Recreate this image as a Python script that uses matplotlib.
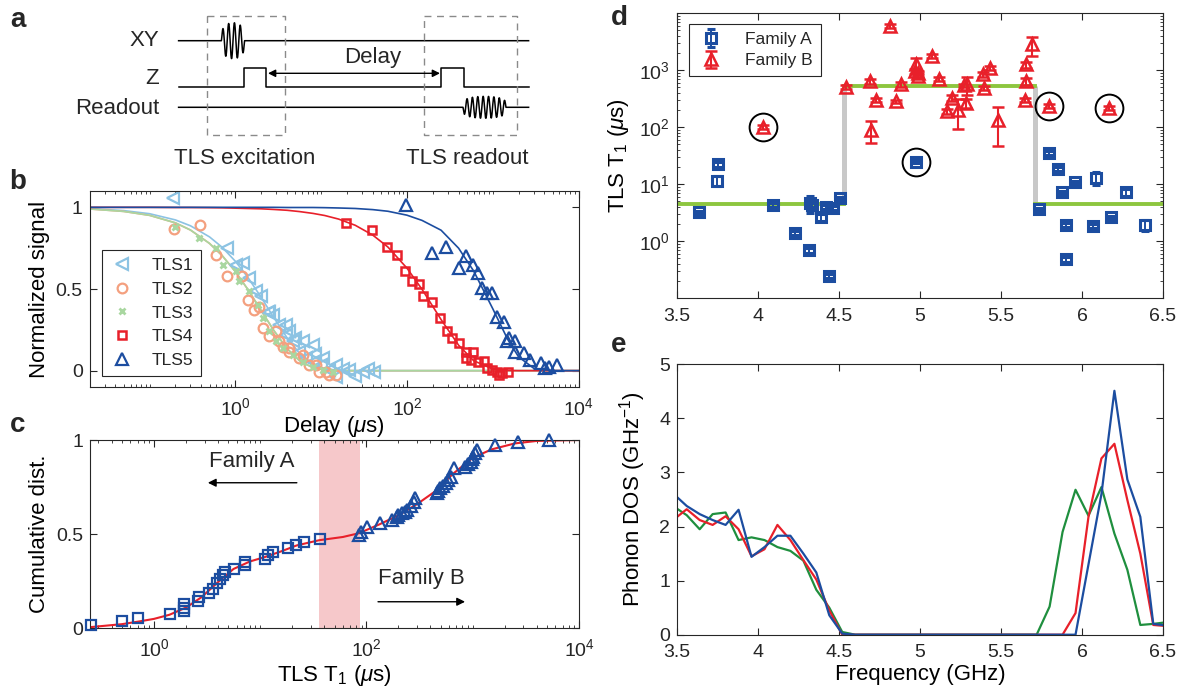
import numpy as np
import matplotlib
matplotlib.use('Agg')
from matplotlib import pyplot as plt
from matplotlib.ticker import LogLocator, NullFormatter, FixedLocator

plt.rcParams['font.family'] = ['Liberation Sans', 'DejaVu Sans']
plt.rcParams['mathtext.fontset'] = 'custom'
plt.rcParams['mathtext.rm'] = 'Liberation Sans'
plt.rcParams['mathtext.it'] = 'Liberation Sans:italic'
plt.rcParams['mathtext.bf'] = 'Liberation Sans:bold'
plt.rcParams['text.color'] = '#262626'

# ---------------- panel b: T1 decay of five TLS ----------------
t1 = [0.186, 0.79, 1.02, 1.22, 1.46, 1.74, 1.99, 2.38, 2.49, 2.72, 3.26, 3.9, 3.9, 4.26, 4.66,
      5.0, 5.57, 6.1, 6.67, 7.97, 7.97, 8.5, 10.0, 10.4, 12.5, 14.9, 14.9, 18.0, 21.3, 25.0,
      30.5, 35.0, 41.7]
s1 = [1.06, 0.75, 0.65, 0.66, 0.57, 0.485, 0.46, 0.36, 0.36, 0.34, 0.28, 0.22, 0.28, 0.24, 0.18,
      0.2, 0.117, 0.18, 0.076, 0.055, 0.16, 0.1, 0.035, 0.076, 0.004, -0.037, 0.035, 0.01, 0.004, -0.03,
      -0.006, 0.01, -0.006]
t2 = [0.194, 0.39, 0.6, 0.8, 1.2, 1.39, 1.66, 1.89, 2.08, 2.49, 2.98, 3.26, 3.56, 4.26, 4.26,
      5.57, 6.1, 7.3, 8.7, 9.5, 11.4, 12.5, 14.9]
s2 = [0.87, 0.89, 0.71, 0.58, 0.58, 0.43, 0.37, 0.39, 0.26, 0.21, 0.24, 0.18, 0.147, 0.117, 0.137,
      0.076, 0.096, 0.035, 0.035, -0.006, -0.006, -0.026, -0.026]
t3 = [0.2, 0.38, 0.6, 0.71, 1.02, 1.11, 1.46, 1.82, 2.08, 2.49, 2.98, 3.56, 4.66, 6.1, 7.97, 10.4, 13.6]
s3 = [0.88, 0.81, 0.75, 0.65, 0.61, 0.55, 0.485, 0.40, 0.32, 0.24, 0.18, 0.137, 0.096, 0.055, 0.025, 0.004, -0.006]
t4 = [19.6, 38.9, 58, 76.5, 95.7, 114, 140, 155, 194, 244, 293, 335, 410, 493, 493, 560, 585,
      665, 792, 866, 985, 1120, 1190, 1300, 1490]
s4 = [0.905, 0.86, 0.76, 0.71, 0.61, 0.546, 0.53, 0.456, 0.42, 0.32, 0.24, 0.20, 0.17, 0.115, 0.076,
      0.066, 0.115, 0.055, 0.06, 0.018, 0.004, -0.006, -0.026, -0.016, -0.006]
t5 = [98.5, 194, 285, 403, 493, 585, 665, 760, 866, 985, 1120, 1360, 1480, 1530, 1800, 1830,
      2330, 2710, 3680, 4060, 4530, 5600]
s5 = [1.017, 0.72, 0.755, 0.63, 0.70, 0.65, 0.60, 0.505, 0.475, 0.475, 0.33, 0.30, 0.18, 0.20,
      0.18, 0.117, 0.107, 0.066, 0.045, 0.015, 0.025, 0.035]

# fitted decay curves
fit_t = [0.02, 0.05, 0.1, 0.2, 0.3, 0.5, 0.7, 1, 1.4, 2, 2.8, 4, 5.6, 8, 11, 16, 25, 40, 60,
         100, 150, 250, 400, 600, 1000, 1500, 2000, 3000, 5000, 10000]
fit1 = [0.992, 0.98, 0.961, 0.923, 0.887, 0.819, 0.756, 0.67, 0.571, 0.449, 0.326, 0.202, 0.106,
        0.041, 0.012, 0.002, 0, 0, 0, 0, 0, 0, 0, 0, 0, 0, 0, 0, 0, 0]
fit3 = [0.99, 0.975, 0.951, 0.905, 0.861, 0.779, 0.705, 0.607, 0.497, 0.368, 0.247, 0.135, 0.061,
        0.018, 0.004, 0, 0, 0, 0, 0, 0, 0, 0, 0, 0, 0, 0, 0, 0, 0]
fit4 = [1.0, 1.0, 1.0, 0.999, 0.999, 0.998, 0.997, 0.995, 0.993, 0.991, 0.987, 0.982, 0.974, 0.963,
        0.95, 0.928, 0.89, 0.83, 0.757, 0.628, 0.498, 0.313, 0.156, 0.061, 0.01, 0.001, 0, 0, 0, 0]
fit5 = [1.0, 1.0, 1.0, 1.0, 1.0, 1.0, 1.0, 1.0, 1.0, 1.0, 1.0, 0.999, 0.999, 0.999, 0.998, 0.996,
        0.993, 0.986, 0.976, 0.952, 0.92, 0.86, 0.75, 0.61, 0.38, 0.19, 0.085, 0.015, 0, 0]

# ---------------- panel c: cumulative distribution ----------------
sq_t = [0.256, 0.497, 0.713, 1.41, 1.91, 1.91, 1.91, 2.6, 2.64, 3.3, 3.6, 3.88, 4.17, 4.48, 4.64,
        5.64, 7.14, 7.14, 11, 11.8, 13.2, 18.3, 21.9, 25.8, 36.3]
sq_c = [0.017, 0.04, 0.056, 0.076, 0.093, 0.11, 0.128, 0.147, 0.168, 0.19, 0.21, 0.24, 0.26, 0.283,
        0.30, 0.315, 0.336, 0.354, 0.368, 0.389, 0.404, 0.425, 0.442, 0.457, 0.474]
tr_t = [85, 88, 101, 134, 173, 194, 200, 217, 230, 243, 262, 280, 288, 458, 470, 495, 520, 555,
        580, 618, 665, 853, 900, 955, 980, 1000, 1050, 1090, 1620, 2690, 5200]
tr_c = [0.495, 0.513, 0.54, 0.557, 0.575, 0.593, 0.60, 0.61, 0.62, 0.628, 0.651, 0.67, 0.69, 0.717,
        0.73, 0.743, 0.755, 0.77, 0.79, 0.805, 0.85, 0.858, 0.87, 0.885, 0.9, 0.91, 0.93, 0.947,
        0.973, 0.99, 1.0]
cdf_t = [0.25, 0.5, 0.7, 1, 1.4, 2, 2.8, 4, 5.6, 8, 11, 16, 22, 36, 60, 85, 130, 200, 300, 450,
         650, 1000, 1500, 2500, 4000, 10000]
cdf_c = [0.006, 0.022, 0.035, 0.05, 0.072, 0.11, 0.165, 0.245, 0.315, 0.355, 0.378, 0.41, 0.44,
         0.468, 0.485, 0.505, 0.55, 0.6, 0.66, 0.73, 0.82, 0.905, 0.95, 0.982, 0.995, 1.0]
gap_t = [35.7, 86]

# ---------------- panel d: T1 vs frequency ----------------
famA_f = [3.638, 3.745, 3.755, 4.094, 4.228, 4.317, 4.321, 4.335, 4.389, 4.42, 4.461, 4.436,
          4.506, 4.973, 5.735, 5.796, 5.85, 5.879, 5.957, 5.901, 5.899, 6.066, 6.086, 6.179,
          6.272, 6.39]
famA_T = [3.17, 11.4, 22.2, 4.26, 1.38, 0.686, 4.57, 4.3, 2.59, 3.98, 3.73, 0.241, 5.6, 24.7,
          3.58, 35.6, 18.2, 7.13, 10.7, 1.89, 0.475, 1.84, 12.9, 2.59, 7.13, 1.89]
famA_err = [0.2, 2.2, 2.2, 0.3, 0.1, 0.06, 1.5, 0.4, 0.35, 0.3, 0.3, 0.02, 0.4, 1.5, 0.25, 3,
            1.4, 0.5, 0.8, 0.15, 0.04, 0.14, 3.2, 0.2, 0.9, 0.4]
famB_f = [4.029, 4.543, 4.691, 4.70, 4.728, 4.815, 4.85, 4.885, 4.967, 4.978, 4.99, 4.985,
          5.072, 5.118, 5.165, 5.2, 5.236, 5.27, 5.293, 5.282, 5.386, 5.398, 5.433, 5.483,
          5.648, 5.654, 5.654, 5.69, 5.796, 6.167]
famB_T = [102, 507, 637, 89.6, 303, 5950, 283, 557, 956, 1250, 895, 800, 1760, 702, 188, 325,
          202, 537, 557, 265, 836, 488, 1097, 134, 303, 637, 1255, 2820, 238, 216]
famB_err = [8, 40, 60, 38, 25, 400, 20, 50, 100, 350, 80, 70, 150, 60, 20, 40, 110, 40, 200, 50,
            80, 40, 100, 88, 25, 100, 150, 1050, 20, 18]
circled_A = [13]
circled_B = [0, 28, 29]
step_f = [4.53, 5.71]
level_A = 4.4
level_B = 520

# ---------------- panel e: phonon DOS ----------------
dos_f = [3.48, 3.56, 3.64, 3.72, 3.80, 3.88, 3.96, 4.04, 4.12, 4.20, 4.28, 4.36, 4.44, 4.52,
         4.60, 4.68, 4.76, 4.84, 4.92, 5.00, 5.08, 5.16, 5.24, 5.32, 5.40, 5.48, 5.56, 5.64,
         5.72, 5.80, 5.88, 5.96, 6.04, 6.12, 6.20, 6.28, 6.36, 6.44, 6.52]
dos_blue = [2.6, 2.38, 2.23, 2.12, 2.03, 2.31, 1.44, 1.62, 1.83, 1.83, 1.5, 1.15, 0.36, 0.02,
            0, 0, 0, 0, 0, 0, 0, 0, 0, 0, 0, 0, 0, 0, 0, 0, 0, 0,
            1.3, 2.6, 4.51, 2.87, 2.18, 0.2, 0.17]
dos_red = [2.13, 2.32, 2.12, 2.03, 2.19, 1.95, 1.45, 1.58, 2.03, 1.75, 1.38, 1.02, 0.45, 0.0,
           0, 0, 0, 0, 0, 0, 0, 0, 0, 0, 0, 0, 0, 0, 0, 0, 0,
           0.40, 2.18, 3.26, 3.53, 2.49, 1.5, 0.18, 0.16]
dos_green = [2.37, 2.21, 1.95, 2.23, 2.26, 1.75, 1.80, 1.75, 1.62, 1.55, 1.37, 0.83, 0.5, 0.05,
             0, 0, 0, 0, 0, 0, 0, 0, 0, 0, 0, 0, 0, 0, 0,
             0.52, 1.9, 2.68, 2.2, 2.73, 1.87, 1.2, 0.18, 0.2, 0.23]

c_lblue = '#8cc3e3'
c_salmon = '#f4a07f'
c_lgreen = '#a9d7a0'
c_red = '#e8202a'
c_blue = '#1c4da0'
c_green = '#1f8f3e'
c_txt = '#262626'

W, H = 1182, 698
fig = plt.figure(figsize=(W / 100, H / 100), dpi=100)


def rect(l, t, r, b):
    return [l / W, 1 - b / H, (r - l) / W, (b - t) / H]


def style(ax):
    ax.tick_params(which='both', direction='in', top=True, right=True, colors=c_txt, labelsize=14)
    ax.tick_params(which='major', length=5, width=0.8)
    ax.tick_params(which='minor', length=2.5, width=0.6)
    ax.tick_params(axis='x', pad=7)
    ax.tick_params(axis='y', pad=5)
    for sp in ax.spines.values():
        sp.set_linewidth(0.8)
        sp.set_color(c_txt)


def logx(ax):
    ax.set_xscale('log')
    ax.xaxis.set_major_locator(FixedLocator([1e0, 1e2, 1e4]))
    ax.xaxis.set_minor_locator(LogLocator(base=10, subs=np.arange(1, 10), numticks=30))
    ax.xaxis.set_minor_formatter(NullFormatter())


# ---------------- panel a: pulse sequence (pixel coordinates) ----------------
axa = fig.add_axes([0, 0, 1, 1], zorder=0)
axa.set_xlim(0, W)
axa.set_ylim(H, 0)
axa.axis('off')

x0, x1 = 178.6, 528.6
yxy, yz, yzh, yro = 40.7, 86.7, 68.3, 107.3
# XY line with drive burst
u = np.linspace(0, 1, 200)
bx = 221.4 + 23.2 * u
by = yxy - 18 * np.sin(2 * np.pi * 4 * u) * np.sin(np.pi * u) ** 0.25
axa.plot(np.r_[x0, bx, x1], np.r_[yxy, by, yxy], color='k', lw=1.1)
# Z line with two pulses
zx = [x0, 243.9, 243.9, 266, 266, 441, 441, 463.6, 463.6, x1]
zy = [yz, yz, yzh, yzh, yz, yz, yzh, yzh, yz, yz]
axa.plot(zx, zy, color='k', lw=1.1)
# readout line with burst
rx = 463 + 43 * u
ry = yro + 11 * np.sin(2 * np.pi * 8 * u) * np.sin(np.pi * u) ** 0.2
axa.plot(np.r_[x0, rx, x1], np.r_[yro, ry, yro], color='k', lw=1.1)
# dashed boxes
for bl, br in [(207, 284.6), (424, 517)]:
    axa.plot([bl, br, br, bl, bl], [16, 16, 135, 135, 16], color='#8a8a8a', lw=1.0,
             ls=(0, (5, 4)))
axa.annotate('', xy=(268, 73.3), xytext=(440, 73.3),
             arrowprops=dict(arrowstyle='<|-|>', color='k', lw=1.0, mutation_scale=11,
                             shrinkA=0, shrinkB=0))
axa.text(373, 57, 'Delay', fontsize=16, ha='center', va='center')
axa.text(159, 40.7, 'XY', fontsize=16, ha='right', va='center')
axa.text(159, 78, 'Z', fontsize=16, ha='right', va='center')
axa.text(159, 108, 'Readout', fontsize=16, ha='right', va='center')
axa.text(245, 158, 'TLS excitation', fontsize=16, ha='center', va='center')
axa.text(467, 158, 'TLS readout', fontsize=16, ha='center', va='center')

# ---------------- panel b ----------------
axb = fig.add_axes(rect(89.6, 191, 578.5, 387))
style(axb)
logx(axb)
axb.plot(fit_t, fit1, color=c_lblue, lw=1.2)
axb.plot(fit_t, fit3, color=c_salmon, lw=1.2)
axb.plot(fit_t, fit3, color=c_lgreen, lw=1.2)
axb.plot(fit_t, fit4, color=c_red, lw=1.2)
axb.plot(fit_t, fit5, color=c_blue, lw=1.2)
axb.plot(t1, s1, ls='none', marker='<', ms=8, mfc='none', mec=c_lblue, mew=1.6, label='TLS1')
axb.plot(t2, s2, ls='none', marker='o', ms=7, mfc='none', mec=c_salmon, mew=1.6, label='TLS2')
axb.plot(t3, s3, ls='none', marker='x', ms=5, mec=c_lgreen, mew=2.0, label='TLS3')
axb.plot(t4, s4, ls='none', marker='s', ms=5.5, mfc='none', mec=c_red, mew=1.8, label='TLS4')
axb.plot(t5, s5, ls='none', marker='^', ms=8, mfc='none', mec=c_blue, mew=1.6, label='TLS5')
axb.set_xlim(0.02, 1e4)
axb.set_ylim(-0.1, 1.1)
axb.set_yticks([0, 0.5, 1])
axb.set_yticklabels(['0', '0.5', '1'])
axb.set_xlabel(r'Delay ($\mu$s)', fontsize=16, labelpad=-3)
axb.set_ylabel('Normalized signal', fontsize=16, labelpad=4)
lg = axb.legend(loc='lower left', bbox_to_anchor=(0.025, 0.056), borderaxespad=0, fontsize=12.5,
                frameon=True, fancybox=False, edgecolor=c_txt, framealpha=1, handlelength=1.4,
                handletextpad=1.0, labelspacing=0.5, borderpad=0.45)
lg.get_frame().set_linewidth(0.8)

# ---------------- panel c ----------------
axc = fig.add_axes(rect(90, 440, 579, 628.3))
style(axc)
logx(axc)
axc.axvspan(gap_t[0], gap_t[1], color='#f6c8ca', lw=0, zorder=0)
axc.plot(cdf_t, cdf_c, color=c_red, lw=1.5, zorder=2)
axc.plot(sq_t, sq_c, ls='none', marker='s', ms=7, mfc='none', mec=c_blue, mew=1.6, zorder=3,
         clip_on=False)
axc.plot(tr_t, tr_c, ls='none', marker='^', ms=9, mfc='none', mec=c_blue, mew=1.6, zorder=3,
         clip_on=False)
axc.set_xlim(0.25, 1e4)
axc.set_ylim(0, 1)
axc.set_yticks([0, 0.5, 1])
axc.set_yticklabels(['0', '0.5', '1'])
axc.set_xlabel(r'TLS T$_1$ ($\mu$s)', fontsize=16, labelpad=2)
axc.set_ylabel('Cumulative dist.', fontsize=16, labelpad=4)
axc.text(0.331, 0.888, 'Family A', transform=axc.transAxes, fontsize=16, ha='center', va='center')
axc.annotate('', xy=(0.241, 0.773), xytext=(0.423, 0.773), xycoords='axes fraction',
             arrowprops=dict(arrowstyle='-|>', color='k', lw=1.0, mutation_scale=12,
                             shrinkA=0, shrinkB=0))
axc.text(0.677, 0.262, 'Family B', transform=axc.transAxes, fontsize=16, ha='center', va='center')
axc.annotate('', xy=(0.767, 0.141), xytext=(0.589, 0.141), xycoords='axes fraction',
             arrowprops=dict(arrowstyle='-|>', color='k', lw=1.0, mutation_scale=12,
                             shrinkA=0, shrinkB=0))

# ---------------- panel d ----------------
axd = fig.add_axes(rect(677, 13, 1163, 298))
style(axd)
axd.set_yscale('log')
for fs in step_f:
    axd.plot([fs, fs], [level_A, level_B], color='#c8c8c8', lw=3.6, zorder=1,
             solid_capstyle='butt')
axd.plot([3.5, step_f[0]], [level_A, level_A], color='#8dc63f', lw=2.8, zorder=1.5)
axd.plot([step_f[0], step_f[1]], [level_B, level_B], color='#8dc63f', lw=2.8, zorder=1.5)
axd.plot([step_f[1], 6.5], [level_A, level_A], color='#8dc63f', lw=2.8, zorder=1.5)
axd.errorbar(famA_f, famA_T, yerr=famA_err, ls='none', marker='s', ms=6.5, mfc='none', mec=c_blue,
             mew=2.2, ecolor=c_blue, elinewidth=1.4, capsize=3, capthick=1.4, zorder=3,
             label='Family A')
axd.errorbar(famB_f, famB_T, yerr=famB_err, ls='none', marker='^', ms=9, mfc='none', mec=c_red,
             mew=1.8, ecolor=c_red, elinewidth=1.5, capsize=4, capthick=1.5, zorder=3,
             label='Family B')
axd.plot([famA_f[i] for i in circled_A], [famA_T[i] for i in circled_A], ls='none', marker='o',
         ms=20, mfc='none', mec='k', mew=1.4, zorder=4)
axd.plot([famB_f[i] for i in circled_B], [famB_T[i] for i in circled_B], ls='none', marker='o',
         ms=20, mfc='none', mec='k', mew=1.4, zorder=4)
axd.set_xlim(3.5, 6.5)
axd.set_ylim(0.1, 1e4)
axd.yaxis.set_major_locator(FixedLocator([1, 10, 100, 1000]))
axd.yaxis.set_minor_locator(LogLocator(base=10, subs=np.arange(1, 10), numticks=30))
axd.yaxis.set_minor_formatter(NullFormatter())
axd.set_xticks([3.5, 4, 4.5, 5, 5.5, 6, 6.5])
axd.set_xticklabels(['3.5', '4', '4.5', '5', '5.5', '6', '6.5'])
axd.set_ylabel(r'TLS T$_1$ ($\mu$s)', fontsize=16, labelpad=6)
lgd = axd.legend(loc='upper left', bbox_to_anchor=(0.0247, 0.961), borderaxespad=0, fontsize=12.5,
                 frameon=True, fancybox=False, edgecolor=c_txt, framealpha=1, handlelength=1.6,
                 handletextpad=1.2, labelspacing=0.35, borderpad=0.45)
lgd.get_frame().set_linewidth(0.8)

# ---------------- panel e ----------------
axe = fig.add_axes(rect(677, 364.3, 1163, 634.7))
style(axe)
axe.plot(dos_f, dos_green, color=c_green, lw=1.6)
axe.plot(dos_f, dos_red, color=c_red, lw=1.6)
axe.plot(dos_f, dos_blue, color=c_blue, lw=1.6)
axe.set_xlim(3.5, 6.5)
axe.set_ylim(0, 5)
axe.set_xticks([3.5, 4, 4.5, 5, 5.5, 6, 6.5])
axe.set_xticklabels(['3.5', '4', '4.5', '5', '5.5', '6', '6.5'])
axe.set_yticks([0, 1, 2, 3, 4, 5])
axe.set_xlabel('Frequency (GHz)', fontsize=16, labelpad=2)
axe.set_ylabel(r'Phonon DOS (GHz$^{-1}$)', fontsize=16, labelpad=8)

# panel letters
for lab, px, py in [('a', 18, 20), ('b', 18, 182), ('c', 18, 425), ('d', 619, 18), ('e', 619, 345)]:
    fig.text(px / W, 1 - py / H, lab, fontsize=20, fontweight='bold', ha='center', va='center')

fig.savefig('out.png', dpi=100)
